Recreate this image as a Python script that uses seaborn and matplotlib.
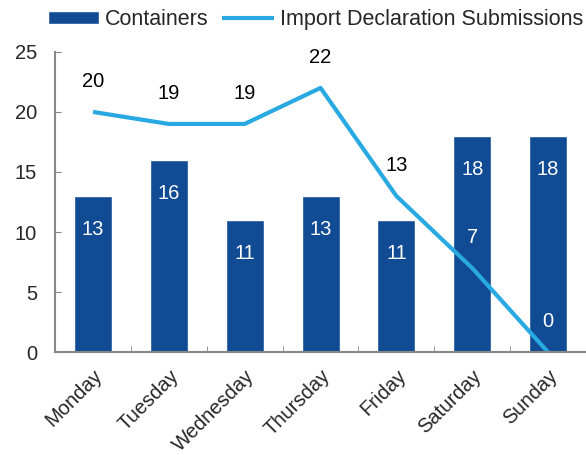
import matplotlib
matplotlib.use('Agg')
import matplotlib.pyplot as plt
import seaborn as sns
import pandas as pd
import numpy as np

days = ['Monday', 'Tuesday', 'Wednesday', 'Thursday', 'Friday', 'Saturday', 'Sunday']
containers = [13, 16, 11, 13, 11, 18, 18]
submissions = [20, 19, 19, 22, 13, 7, 0]

bar_color = '#114B94'
line_color = '#29A9E1'

df = pd.DataFrame({'day': days, 'Containers': containers, 'Submissions': submissions})

sns.set_style('white')
plt.rcParams['font.family'] = ['Liberation Sans', 'DejaVu Sans']

fig = plt.figure(figsize=(5.86, 4.55), dpi=100)
ax = fig.add_axes([0.094, 0.226, 0.906, 0.66])

sns.barplot(data=df, x='day', y='Containers', color=bar_color, width=0.5,
            saturation=1, ax=ax, label='Containers')
ax.plot(np.arange(len(days)), submissions, color=line_color, lw=3,
        label='Import Declaration Submissions', solid_capstyle='butt')

# value labels
for i, v in enumerate(containers):
    ax.annotate(str(v), (i, v), xytext=(0, -24), textcoords='offset points',
                ha='center', va='center', color='white', fontsize=14.5)
for i, v in enumerate(submissions):
    col = 'white' if i >= 5 else 'black'
    ax.annotate(str(v), (i, v), xytext=(0, 22), textcoords='offset points',
                ha='center', va='center', color=col, fontsize=14.5)

ax.set_ylim(0, 25)
ax.set_xlim(-0.5, 6.4)
ax.set_yticks(range(0, 26, 5))
ax.set_xlabel('')
ax.set_ylabel('')
ax.tick_params(axis='y', labelsize=14.5, direction='in', length=4, color='#888888', left=True, pad=13)
ax.tick_params(axis='x', which='major', labelsize=14.5, length=0, pad=10)
ax.set_xticks(np.arange(len(days)) + 0.5, minor=True)
ax.tick_params(axis='x', which='minor', direction='in', length=4, color='#888888', bottom=True)
plt.setp(ax.get_xticklabels(), rotation=45, ha='right', rotation_mode='anchor')

for s in ['top', 'right']:
    ax.spines[s].set_visible(False)
for s in ['left', 'bottom']:
    ax.spines[s].set_color('#888888')
    ax.spines[s].set_linewidth(1.5)

handles, labels = ax.get_legend_handles_labels()
order = [labels.index('Containers'), labels.index('Import Declaration Submissions')]
ax.legend([handles[k] for k in order], [labels[k] for k in order],
          loc='center', bbox_to_anchor=(0.49, 1.107), ncol=2, frameon=False,
          fontsize=15.5, handlelength=2.4, handleheight=0.5, handletextpad=0.28,
          columnspacing=0.6, borderaxespad=0, borderpad=0)

fig.savefig('out.png', dpi=100)
